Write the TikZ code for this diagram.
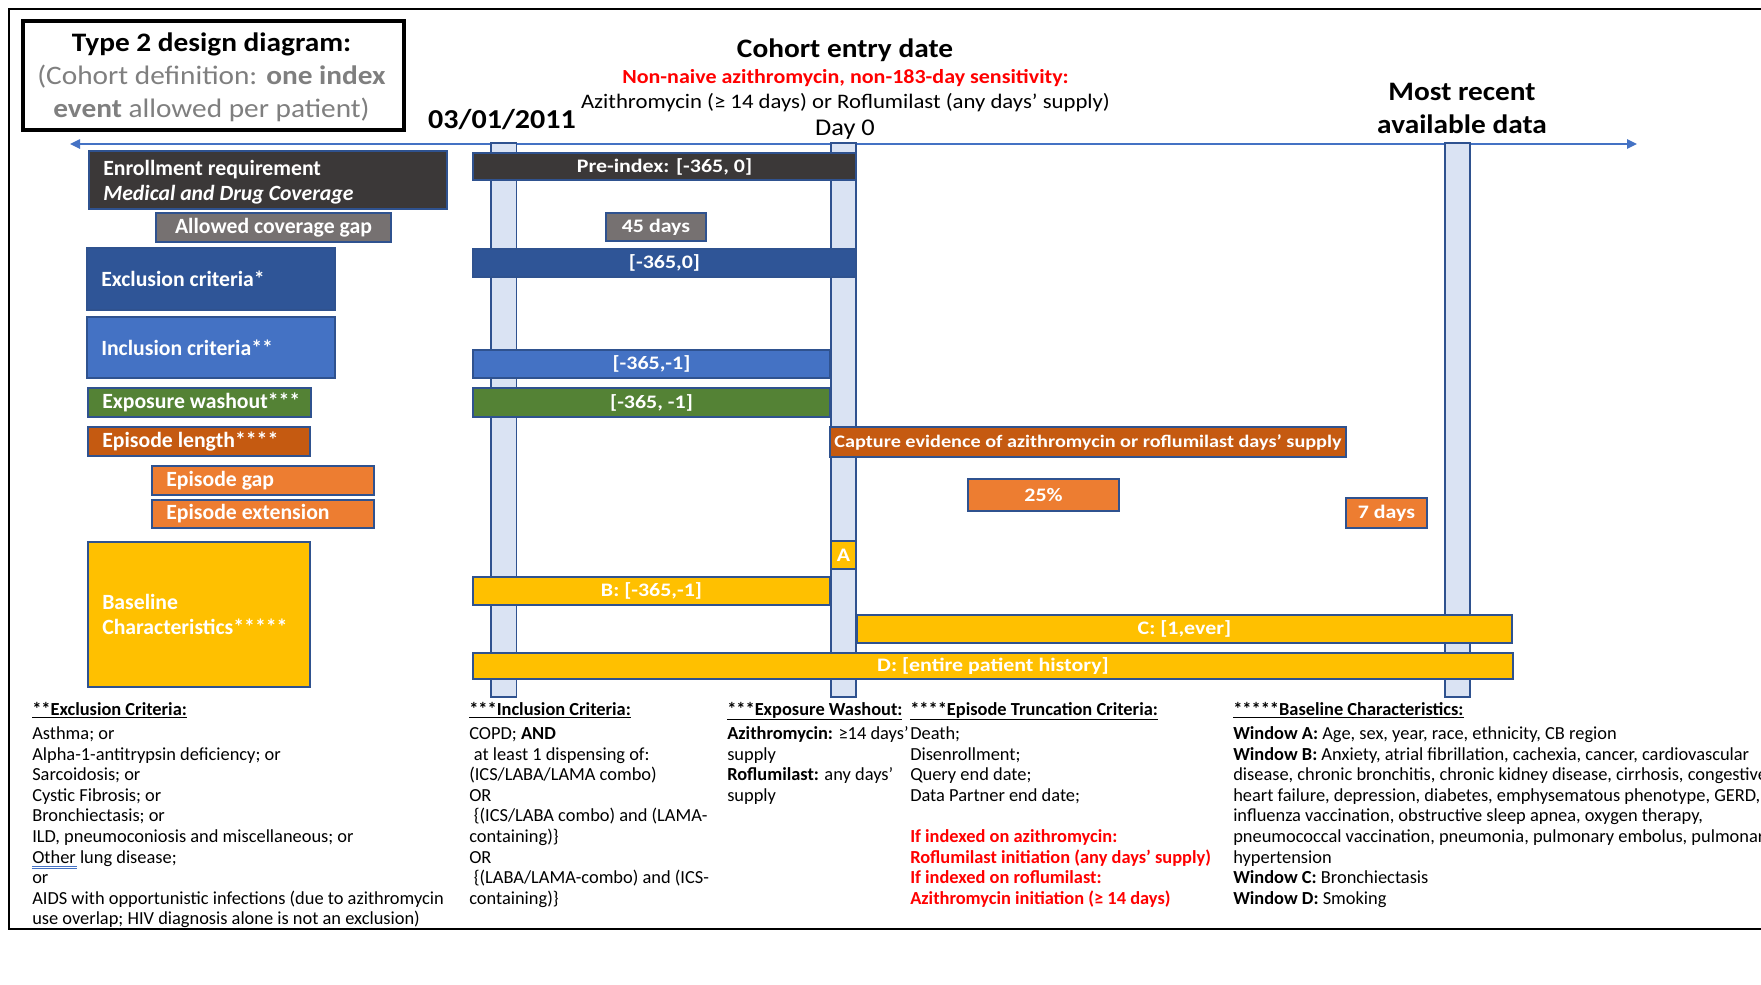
\documentclass[tikz,border=0pt]{standalone}
\usepackage{fontspec}
\setmainfont{Carlito}
\newfontfamily\wide{Carlito}[FakeStretch=1.1]
\newfontfamily\wider{Carlito}[FakeStretch=1.15]
\usetikzlibrary{arrows.meta}
\definecolor{cDark}{HTML}{3B3838}
\definecolor{cGap}{HTML}{767171}
\definecolor{cExcl}{HTML}{2F5597}
\definecolor{cIncl}{HTML}{4472C4}
\definecolor{cWash}{HTML}{548235}
\definecolor{cLen}{HTML}{C55A11}
\definecolor{cOrange}{HTML}{ED7D31}
\definecolor{cGold}{HTML}{FFC000}
\definecolor{cVbar}{HTML}{DAE3F3}
\definecolor{cEdge}{HTML}{2F528F}
\definecolor{cArrow}{HTML}{4472C4}
\definecolor{cGrayText}{HTML}{7F7F7F}
\definecolor{cRed}{HTML}{FF0000}
\newcommand{\bodyfont}{\fontsize{13.8}{15.45}\selectfont}
\newcommand{\coltext}[1]{\parbox[t]{600pt}{\raggedright\bodyfont #1}}
\begin{document}
\begin{tikzpicture}[x=0.75pt,y=-0.75pt,
  bx/.style={draw=cEdge, line width=1.1pt, inner sep=0pt, outer sep=0pt, anchor=north west, text=white, font=\wider\bfseries\fontsize{14.3}{16}\selectfont},
  lbox/.style={draw=cEdge, line width=1.1pt, inner sep=0pt, outer sep=0pt, anchor=north west},
  lbltxt/.style={inner sep=0pt, anchor=west, align=left, text=white, font=\bfseries\fontsize{16.3}{18.75}\selectfont},
  vbar/.style={draw=cEdge, fill=cVbar, line width=1.1pt, inner sep=0pt, outer sep=0pt, anchor=north west, minimum width=19pt, minimum height=415.5pt},
  txt/.style={inner sep=0pt, anchor=base},
  col/.style={inner sep=0pt, anchor=base west},
  hdr/.style={txt, font=\wide\bfseries\fontsize{20}{22}\selectfont},
]
\useasboundingbox (0,0) rectangle (1761,985);
\fill[white] (0,0) rectangle (1761,985);
% outer frame (cut at the right edge)
\draw[black, line width=1.6pt] (1800,9) -- (9,9) -- (9,929) -- (1800,929);

% title box
\node[draw=black, line width=3pt, anchor=north west, inner sep=0pt, minimum width=285.75pt, minimum height=81.75pt] (title) at (21,19) {};
\node[hdr] (t1) at (211.5,51) {Type 2 design diagram:};
\node[txt, text=cGrayText, font=\wide\fontsize{20}{22}\selectfont] (t2) at (211.5,84) {(Cohort definition: \textbf{one index}};
\node[txt, text=cGrayText, font=\wide\fontsize{20}{22}\selectfont] (t3) at (211.5,117) {\textbf{event} allowed per patient)};

% headings
\node[txt, font=\wide\bfseries\fontsize{20.5}{24}\selectfont] (date) at (502,128) {03/01/2011};
\node[hdr] (entry) at (845,57) {Cohort entry date};
\node[txt, text=cRed, font=\wide\bfseries\fontsize{15}{17}\selectfont] (sens) at (845.5,83) {Non-naive azithromycin, non-183-day sensitivity:};
\node[txt, font=\wide\fontsize{15.5}{17}\selectfont] (drug) at (845.5,108) {Azithromycin (≥ 14 days) or Roflumilast (any days’ supply)};
\node[txt, font=\wide\fontsize{18}{20}\selectfont] (day0) at (845,135) {Day 0};
\node[hdr] (mr1) at (1462,100) {Most recent};
\node[hdr] (mr2) at (1462,133) {available data};

% time axis
\coordinate (tl) at (70,144);
\coordinate (tr) at (1637,144);
\draw[cArrow, line width=1.1pt, {Triangle[length=7.5pt,width=7pt]}-{Triangle[length=7.5pt,width=7pt]}] (tl) -- (tr);

% vertical date bars
\node[vbar] (v1) at (491,143) {};
\node[vbar, minimum width=18.75pt] (v0) at (831,143) {};
\node[vbar, minimum width=18.75pt] (v3) at (1445,143) {};

% left labels
\node[lbox, fill=cDark, minimum width=268.5pt, minimum height=43.5pt] (enroll) at (89,151) {};
\node[lbltxt] (enrollT) at ([xshift=10.5pt,yshift=-1.6pt]enroll.west) {Enrollment requirement\\\textit{Medical and Drug Coverage}};
\node[bx, fill=cGap, minimum width=176.25pt, minimum height=21.75pt, font=\bfseries\fontsize{16.3}{18}\selectfont] (gap) at (156,213) {Allowed coverage gap};
\node[lbox, fill=cExcl, minimum width=186pt, minimum height=46.5pt] (excl) at (87,248) {};
\node[lbltxt] (exclT) at ([xshift=10.5pt]excl.west) {Exclusion criteria*};
\node[lbox, fill=cIncl, minimum width=186pt, minimum height=45.75pt] (incl) at (87,317) {};
\node[lbltxt] (inclT) at ([xshift=10.5pt]incl.west) {Inclusion criteria**};
\node[lbox, fill=cWash, minimum width=167.25pt, minimum height=21.75pt] (wash) at (88,388) {};
\node[lbltxt] (washT) at ([xshift=10.5pt]wash.west) {Exposure washout***};
\node[lbox, fill=cLen, minimum width=166.5pt, minimum height=21.75pt] (eplen) at (88,427) {};
\node[lbltxt] (eplenT) at ([xshift=10.5pt]eplen.west) {Episode length****};
\node[lbox, fill=cOrange, minimum width=166.5pt, minimum height=21.75pt] (epgap) at (152,466) {};
\node[lbltxt] (epgapT) at ([xshift=10.5pt]epgap.west) {Episode gap};
\node[lbox, fill=cOrange, minimum width=166.5pt, minimum height=21pt] (epext) at (152,500) {};
\node[lbltxt] (epextT) at ([xshift=10.5pt]epext.west) {Episode extension};
\node[lbox, fill=cGold, minimum width=166.5pt, minimum height=108.75pt] (base) at (88,542) {};
\node[lbltxt] (baseT) at ([xshift=10.5pt]base.west) {Baseline\\Characteristics*****};

% timeline bars
\node[bx, fill=cDark, minimum width=287.25pt, minimum height=20.25pt] (pre) at (473,153) {Pre-index: [-365, 0]};
\node[bx, fill=cGap, minimum width=75pt, minimum height=21pt] (d45) at (606,213) {45 days};
\node[bx, fill=cExcl, minimum width=287.25pt, minimum height=21pt] (exr) at (473,249) {[-365,0]};
\node[bx, fill=cIncl, minimum width=267.75pt, minimum height=21pt] (inr) at (473,350) {[-365,-1]};
\node[bx, fill=cWash, minimum width=267.75pt, minimum height=21.75pt] (war) at (473,388) {[-365, -1]};
\node[bx, fill=cLen, minimum width=387pt, minimum height=22.5pt, font=\wider\bfseries\fontsize{13.2}{15}\selectfont] (cap) at (830,427) {Capture evidence of azithromycin or roflumilast days’ supply};
\node[bx, fill=cOrange, minimum width=113.25pt, minimum height=24pt] (p25) at (968,479) {25\%};
\node[bx, fill=cOrange, minimum width=60.75pt, minimum height=22.5pt] (d7) at (1346,498) {7 days};
\node[bx, fill=cGold, minimum width=18.75pt, minimum height=21pt] (wA) at (831,541) {A};
\node[bx, fill=cGold, minimum width=267.75pt, minimum height=21pt] (wB) at (473,577) {B: [-365,-1]};
\node[bx, fill=cGold, minimum width=491.25pt, minimum height=21pt] (wC) at (857,615) {C: [1,ever]};
\node[bx, fill=cGold, minimum width=780pt, minimum height=19.5pt] (wD) at (473,653) {D: [entire patient history]};

% footnotes
\node[col] (h1) at (32,715) {\bodyfont\textbf{\underline{**Exclusion Criteria:}}};
\node[col] (c1) at (32,739.5) {\coltext{Asthma; or\\Alpha-1-antitrypsin deficiency; or\\Sarcoidosis; or\\Cystic Fibrosis; or\\Bronchiectasis; or\\ILD, pneumoconiosis and miscellaneous; or\\Other lung disease;\\or\\AIDS with opportunistic infections (due to azithromycin\\use overlap; HIV diagnosis alone is not an exclusion)}};
\draw[cIncl, line width=0.45pt] (32,866) -- (77,866) (32,868.5) -- (77,868.5);

\node[col] (h2) at (469,715) {\bodyfont\textbf{\underline{***Inclusion Criteria:}}};
\node[col] (c2) at (469,739.5) {\coltext{COPD; \textbf{AND}\\\hspace*{0.25em}at least 1 dispensing of:\\(ICS/LABA/LAMA combo)\\OR\\\hspace*{0.25em}\{(ICS/LABA combo) and (LAMA-\\containing)\}\\OR\\\hspace*{0.25em}\{(LABA/LAMA-combo) and (ICS-\\containing)\}}};

\node[col] (h3) at (727,715) {\bodyfont\textbf{\underline{***Exposure Washout:}}};
\node[col] (c3) at (727,739.5) {\coltext{\textbf{Azithromycin:} ≥14 days’\\supply\\\textbf{Roflumilast:} any days’\\supply}};

\node[col] (h4) at (910,715) {\bodyfont\textbf{\underline{****Episode Truncation Criteria:}}};
\node[col] (c4) at (910,739.5) {\coltext{Death;\\Disenrollment;\\Query end date;\\Data Partner end date;\\\mbox{}\\\color{cRed}\bfseries If indexed on azithromycin:\\Roflumilast initiation (any days’ supply)\\If indexed on roflumilast:\\Azithromycin initiation (≥ 14 days)}};

\node[col] (h5) at (1233,715) {\bodyfont\textbf{\underline{*****Baseline Characteristics:}}};
\node[col] (c5) at (1233,739.5) {\coltext{\textbf{Window A:} Age, sex, year, race, ethnicity, CB region\\\textbf{Window B:} Anxiety, atrial fibrillation, cachexia, cancer, cardiovascular\\disease, chronic bronchitis, chronic kidney disease, cirrhosis, congestive\\heart failure, depression, diabetes, emphysematous phenotype, GERD,\\influenza vaccination, obstructive sleep apnea, oxygen therapy,\\pneumococcal vaccination, pneumonia, pulmonary embolus, pulmonary\\hypertension\\\textbf{Window C:} Bronchiectasis\\\textbf{Window D:} Smoking}};
\end{tikzpicture}
\end{document}
